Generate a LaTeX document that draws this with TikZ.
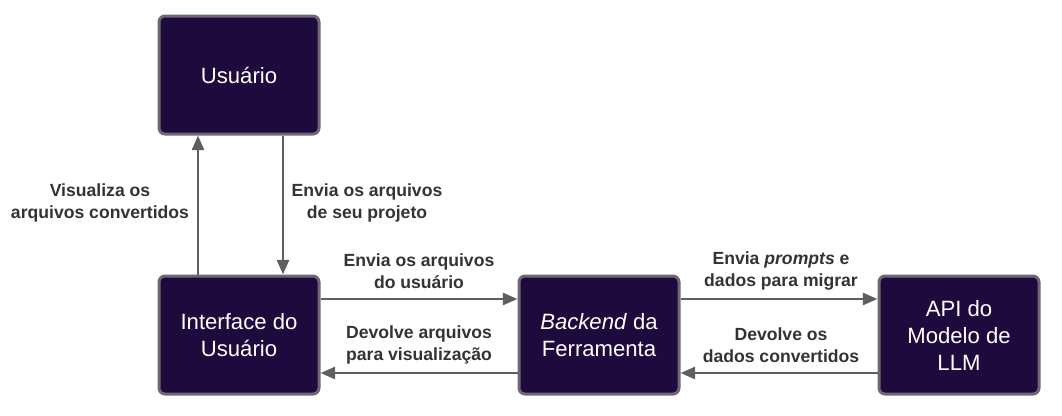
\documentclass[tikz,border=0pt]{standalone}
\usepackage{fontspec}
\setmainfont{Liberation Sans}
\usetikzlibrary{arrows.meta,calc}
\definecolor{boxfill}{RGB}{30,10,60}
\definecolor{boxline}{RGB}{108,104,118}
\definecolor{arrcol}{RGB}{95,95,95}
\definecolor{lbl}{RGB}{51,51,51}
\begin{document}
\begin{tikzpicture}[x=0.75pt,y=-0.75pt,
  box/.style={draw=boxline,line width=2.25pt,fill=boxfill,rounded corners=4.5pt,
    minimum width=120pt,minimum height=88.5pt,inner sep=0pt,text=white,align=center,
    font=\fontsize{16.6pt}{20.25pt}\selectfont},
  lab/.style={text=lbl,align=center,font=\fontsize{13.2pt}{16.5pt}\selectfont\bfseries,inner sep=0pt},
  arr/.style={draw=arrcol,line width=2pt,-{Triangle[length=11pt,width=9pt]}}]
\useasboundingbox (0,0) rectangle (1062,415);
\node[box] (user) at (239,75) {Usuário};
\node[box] (iface) at (239,335) {Interface do\\Usuário};
\node[box] (back) at (599,335) {\textit{Backend} da\\Ferramenta};
\node[box] (api) at (959,335) {API do\\Modelo de\\LLM};
\draw[arr] ($(iface.north)+(-41,0)$) -- ($(user.south)+(-41,0)$);
\draw[arr] ($(user.south)+(44,0)$) -- ($(iface.north)+(44,0)$);
\draw[arr] ($(iface.east)+(0,-36)$) -- ($(back.west)+(0,-36)$);
\draw[arr] ($(back.west)+(0,38)$) -- ($(iface.east)+(0,38)$);
\draw[arr] ($(back.east)+(0,-36)$) -- ($(api.west)+(0,-36)$);
\draw[arr] ($(api.west)+(0,38)$) -- ($(back.east)+(0,38)$);
\node[lab] (l1) at (100,203) {Visualiza os\\arquivos convertidos};
\node[lab] (l2) at (367,203) {Envia os arquivos\\de seu projeto};
\node[lab] (l3) at (419,271) {Envia os arquivos\\do usuário};
\node[lab] (l4) at (419,345) {Devolve arquivos\\para visualização};
\node[lab] (l5) at (781,271) {Envia \textit{prompts} e\\dados para migrar};
\node[lab] (l6) at (781,345) {Devolve os\\dados convertidos};
\end{tikzpicture}
\end{document}
